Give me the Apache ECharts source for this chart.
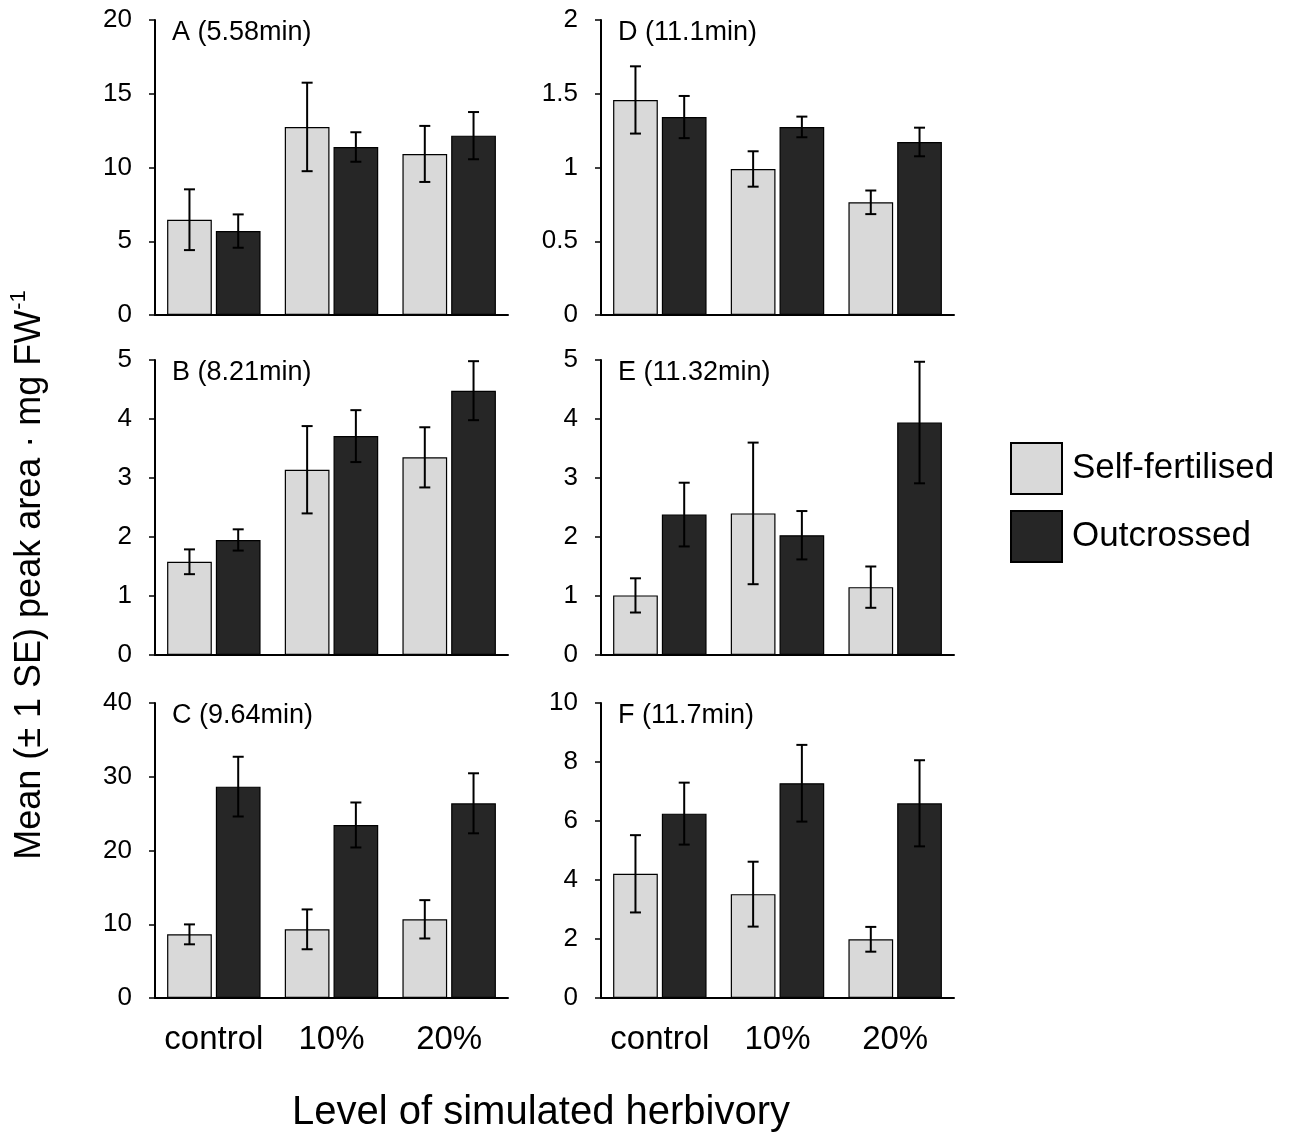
<!DOCTYPE html>
<html lang="en">
<head>
<meta charset="UTF-8">
<title>Peak areas by herbivory level</title>
<script src="https://cdn.jsdelivr.net/npm/echarts@6/dist/echarts.min.js"></script>
<style>
  html, body { margin: 0; padding: 0; background: #fff; }
  #main { width: 1299px; height: 1142px; }
</style>
</head>
<body>
<div id="main"></div>
<script>
// categories and legend names
var categories = ['control', '10%', '20%'];
var groupNames = ['Self-fertilised', 'Outcrossed'];

// panel titles, axis ranges (order A, B, C, D, E, F)
var panelTitles = ['A (5.58min)', 'B (8.21min)', 'C (9.64min)', 'D (11.1min)', 'E (11.32min)', 'F (11.7min)'];
var yMax = [20, 5, 40, 2, 5, 10];
var yStep = [5, 1, 10, 0.5, 1, 2];

// means and standard errors
var selfA = [6.46, 12.75, 10.92],  selfSeA = [2.06, 3.0, 1.9];
var outA  = [5.69, 11.39, 12.16],  outSeA  = [1.13, 1.0, 1.6];
var selfB = [1.58, 3.14, 3.35],    selfSeB = [0.21, 0.74, 0.51];
var outB  = [1.95, 3.71, 4.48],    outSeB  = [0.18, 0.44, 0.5];
var selfC = [8.63, 9.31, 10.67],   selfSeC = [1.35, 2.7, 2.6];
var outC  = [28.66, 23.46, 26.4],  outSeC  = [4.05, 3.05, 4.07];
var selfD = [1.458, 0.99, 0.764],  selfSeD = [0.228, 0.12, 0.08];
var outD  = [1.342, 1.275, 1.173], outSeD  = [0.143, 0.07, 0.097];
var selfE = [1.01, 2.40, 1.15],    selfSeE = [0.29, 1.2, 0.35];
var outE  = [2.38, 2.03, 3.94],    outSeE  = [0.54, 0.41, 1.03];
var selfF = [4.21, 3.52, 1.99],    selfSeF = [1.31, 1.1, 0.42];
var outF  = [6.25, 7.28, 6.60],    outSeF  = [1.05, 1.3, 1.46];

var selfMeans = [selfA, selfB, selfC, selfD, selfE, selfF];
var selfSes   = [selfSeA, selfSeB, selfSeC, selfSeD, selfSeE, selfSeF];
var outMeans  = [outA, outB, outC, outD, outE, outF];
var outSes    = [outSeA, outSeB, outSeC, outSeD, outSeE, outSeF];

var FONT = '"Liberation Sans", Arial, Helvetica, sans-serif';
var BAR_W = 0.38;   // share of category band
var BAR_GAP = 0.09; // share of bar width

// grid boxes: left column A-C, right column D-F
var gridLefts = [155, 155, 155, 601, 601, 601];
var gridTops  = [20, 360, 703, 20, 360, 703];

function errorBars(sign) {
  return function (params, api) {
    var x = api.value(0), m = api.value(1), se = api.value(2);
    var hi = api.coord([x, m + se]);
    var lo = api.coord([x, m - se]);
    var band = api.size([1, 0])[0];
    var bw = band * BAR_W;
    var cx = hi[0] + sign * (bw / 2 + bw * BAR_GAP / 2);
    var cap = 5.5;
    var st = { stroke: '#000', lineWidth: 2 };
    return {
      type: 'group',
      children: [
        { type: 'line', shape: { x1: cx, y1: hi[1], x2: cx, y2: lo[1] }, style: st },
        { type: 'line', shape: { x1: cx - cap, y1: hi[1], x2: cx + cap, y2: hi[1] }, style: st },
        { type: 'line', shape: { x1: cx - cap, y1: lo[1], x2: cx + cap, y2: lo[1] }, style: st }
      ]
    };
  };
}

var grids = [], xAxes = [], yAxes = [], series = [], titles = [];
for (var i = 0; i < 6; i++) {
  var bottomRow = (i === 2 || i === 5);
  grids.push({ left: gridLefts[i], top: gridTops[i], width: 353, height: 295 });
  titles.push({
    text: panelTitles[i], left: gridLefts[i] + 17, top: gridTops[i] - 1,
    padding: 0,
    textStyle: { fontFamily: FONT, fontSize: 27, fontWeight: 'normal', color: '#000' }
  });
  xAxes.push({
    type: 'category', gridIndex: i, data: categories,
    axisLine: { lineStyle: { color: '#000', width: 2 } },
    axisTick: { show: false },
    axisLabel: {
      show: bottomRow, interval: 0, hideOverlap: false, margin: 25,
      color: '#000', fontFamily: FONT, fontSize: 33
    },
    splitLine: { show: false }
  });
  yAxes.push({
    type: 'value', gridIndex: i, min: 0, max: yMax[i], interval: yStep[i],
    axisLine: { show: true, lineStyle: { color: '#000', width: 2 } },
    axisTick: { show: true, length: 6, lineStyle: { color: '#000', width: 1.5 } },
    axisLabel: { margin: 23, color: '#000', fontFamily: FONT, fontSize: 26 },
    splitLine: { show: false }
  });
  series.push({
    name: groupNames[0], type: 'bar', xAxisIndex: i, yAxisIndex: i,
    data: selfMeans[i], barWidth: (BAR_W * 100) + '%', barGap: (BAR_GAP * 100) + '%',
    itemStyle: { color: '#d9d9d9', borderColor: '#000', borderWidth: 1.2 }
  });
  series.push({
    name: groupNames[1], type: 'bar', xAxisIndex: i, yAxisIndex: i,
    data: outMeans[i], barWidth: (BAR_W * 100) + '%', barGap: (BAR_GAP * 100) + '%',
    itemStyle: { color: '#262626', borderColor: '#000', borderWidth: 1.2 }
  });
  series.push({
    type: 'custom', xAxisIndex: i, yAxisIndex: i, z: 10,
    renderItem: errorBars(-1),
    data: selfMeans[i].map(function (v, k) { return [k, v, selfSes[this][k]]; }, i)
  });
  series.push({
    type: 'custom', xAxisIndex: i, yAxisIndex: i, z: 10,
    renderItem: errorBars(1),
    data: outMeans[i].map(function (v, k) { return [k, v, outSes[this][k]]; }, i)
  });
}

var chart = echarts.init(document.getElementById('main'));
chart.setOption({
  animation: false,
  backgroundColor: '#fff',
  title: titles,
  grid: grids,
  xAxis: xAxes,
  yAxis: yAxes,
  legend: {
    data: groupNames, orient: 'vertical', left: 1010, top: 442,
    padding: 0, itemWidth: 51, itemHeight: 51, itemGap: 15, icon: 'rect',
    textStyle: { fontFamily: FONT, fontSize: 35, color: '#000', padding: [0, 0, 0, 5] }
  },
  graphic: [
    {
      type: 'text', x: 30, y: 575, rotation: Math.PI / 2,
      style: {
        text: '{m|Mean (\u00b1 1 SE) peak area \u00b7 mg FW}{s|-1}',
        align: 'center', verticalAlign: 'middle',
        rich: {
          m: { fontFamily: FONT, fontSize: 36, fill: '#000' },
          s: { fontFamily: FONT, fontSize: 22, fill: '#000', padding: [0, 0, 22, 0] }
        }
      }
    },
    {
      type: 'text', x: 541, y: 1113,
      style: {
        text: 'Level of simulated herbivory', fontFamily: FONT, fontSize: 40,
        fill: '#000', align: 'center', verticalAlign: 'middle'
      }
    }
  ],
  series: series
});
</script>
</body>
</html>
